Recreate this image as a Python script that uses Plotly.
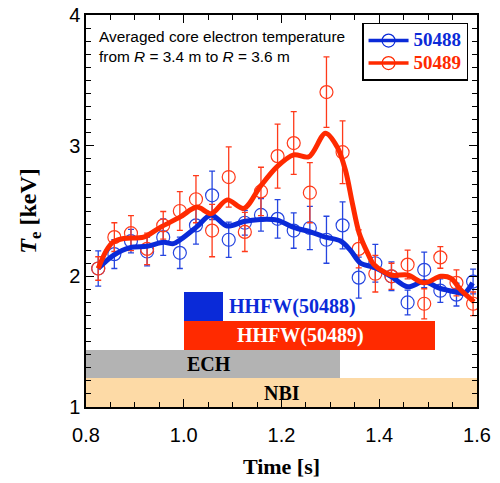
import plotly.graph_objects as go

# ---- data ----
time = [0.825, 0.858, 0.892, 0.925, 0.958, 0.992, 1.025, 1.058, 1.092, 1.125, 1.158, 1.192,
        1.225, 1.258, 1.292, 1.325, 1.358, 1.392, 1.425, 1.458, 1.492, 1.525, 1.558, 1.592]
te_50488 = [2.06, 2.17, 2.27, 2.19, 2.30, 2.18, 2.39, 2.62, 2.28, 2.41, 2.47, 2.44,
            2.35, 2.37, 2.28, 2.39, 1.99, 2.10, 2.00, 1.80, 2.05, 1.89, 1.86, 1.96]
err_50488 = [0.135, 0.11, 0.09, 0.11, 0.14, 0.12, 0.144, 0.185, 0.135, 0.095, 0.124, 0.147,
             0.135, 0.165, 0.18, 0.18, 0.157, 0.144, 0.11, 0.095, 0.136, 0.09, 0.087, 0.095]
te_50489 = [2.06, 2.30, 2.33, 2.21, 2.39, 2.50, 2.59, 2.35, 2.76, 2.34, 2.65, 2.92,
            3.02, 2.64, 3.41, 2.95, 2.21, 2.02, 2.00, 2.09, 1.79, 2.145, 1.95, 1.79]
err_50489 = [0.09, 0.11, 0.134, 0.12, 0.106, 0.148, 0.18, 0.2, 0.23, 0.15, 0.185, 0.245,
             0.24, 0.23, 0.27, 0.24, 0.145, 0.14, 0.1, 0.11, 0.115, 0.083, 0.1, 0.09]

fit_t_50488 = [0.825, 0.856, 0.890, 0.925, 0.959, 0.979, 0.993, 1.027, 1.056, 1.089, 1.123, 1.157,
               1.191, 1.225, 1.259, 1.290, 1.321, 1.341, 1.362, 1.389, 1.424, 1.458, 1.492, 1.523,
               1.557, 1.574, 1.591]
fit_50488 = [2.06, 2.16, 2.22, 2.23, 2.26, 2.25, 2.28, 2.38, 2.47, 2.385, 2.42, 2.435,
             2.43, 2.375, 2.34, 2.30, 2.27, 2.20, 2.10, 2.07, 2.00, 1.92, 1.96, 1.91,
             1.88, 1.87, 1.95]
fit_t_50489 = [0.825, 0.842, 0.856, 0.877, 0.918, 0.952, 0.993, 1.027, 1.056, 1.089, 1.123, 1.157,
               1.191, 1.225, 1.256, 1.290, 1.314, 1.331, 1.345, 1.359, 1.376, 1.389, 1.424, 1.458,
               1.492, 1.526, 1.547, 1.567, 1.594]
fit_50489 = [2.06, 2.20, 2.265, 2.29, 2.30, 2.375, 2.455, 2.53, 2.48, 2.585, 2.52, 2.69,
             2.84, 2.93, 2.915, 3.095, 2.99, 2.81, 2.56, 2.33, 2.18, 2.09, 2.01, 2.01,
             1.95, 2.0, 1.985, 1.895, 1.805]

# heating periods: label, start, end, lower, upper
heat_labels = ["NBI", "ECH", "HHFW(50489)", "HHFW(50488)"]
heat_start = [0.8, 0.8, 1.0, 1.0]
heat_end = [1.6, 1.32, 1.515, 1.08]
heat_low = [1.0, 1.22, 1.44, 1.66]
heat_high = [1.22, 1.44, 1.66, 1.88]
heat_colors = ["#FDDAA6", "#B3B3B3", "#FF2A00", "#0A2AD8"]

BLUE = "#0A2AD8"
BLUE_PT = "#2545E0"
RED = "#FF2A00"
RED_PT = "#FF3A1A"
SERIF = "Liberation Serif"
SANS = "Liberation Sans"

fig = go.Figure()

# heating bars
for lab, s, e, lo, hi, c in zip(heat_labels, heat_start, heat_end, heat_low, heat_high, heat_colors):
    fig.add_trace(go.Bar(orientation="h", y=[(lo + hi) / 2], x=[e - s], base=[s],
                         width=[hi - lo], marker=dict(color=c, line=dict(width=0)),
                         showlegend=False, hoverinfo="skip"))

# data points
fig.add_trace(go.Scatter(x=time, y=te_50488, mode="markers",
                         marker=dict(symbol="circle-open", size=13, color=BLUE_PT, line=dict(width=1.2)),
                         error_y=dict(type="data", array=err_50488, color=BLUE_PT, thickness=1.3, width=3),
                         showlegend=False))
fig.add_trace(go.Scatter(x=time, y=te_50489, mode="markers",
                         marker=dict(symbol="circle-open", size=13, color=RED_PT, line=dict(width=1.2)),
                         error_y=dict(type="data", array=err_50489, color=RED_PT, thickness=1.3, width=3),
                         showlegend=False))
# smoothed curves
fig.add_trace(go.Scatter(x=fit_t_50488, y=fit_50488, mode="lines",
                         line=dict(color=BLUE, width=5, shape="spline", smoothing=0.9), showlegend=False))
fig.add_trace(go.Scatter(x=fit_t_50489, y=fit_50489, mode="lines",
                         line=dict(color=RED, width=5, shape="spline", smoothing=0.9), showlegend=False))

# legend entries
LEG_NAME = '<b><span style="color:%s;font-family:Liberation Serif;font-size:19px">%s</span></b>'
fig.add_trace(go.Scatter(x=[None], y=[None], mode="lines+markers",
                         name=LEG_NAME % (BLUE, "50488"),
                         line=dict(color=BLUE, width=3.5),
                         marker=dict(symbol="circle-open", size=13, color=BLUE, line=dict(width=1.2))))
fig.add_trace(go.Scatter(x=[None], y=[None], mode="lines+markers",
                         name=LEG_NAME % (RED, "50489"),
                         line=dict(color=RED, width=3.5),
                         marker=dict(symbol="circle-open", size=13, color=RED, line=dict(width=1.2))))

annots = [
    dict(x=0.028, y=0.972, xref="paper", yref="paper", xanchor="left", yanchor="top",
         text="Averaged core electron temperature<br>from <i>R</i> = 3.4 m to <i>R</i> = 3.6 m",
         showarrow=False, align="left", font=dict(family=SANS, size=15.4, color="black")),
    dict(x=1.2, y=1.11, xref="x", yref="y", text="<b>NBI</b>", showarrow=False,
         font=dict(family=SERIF, size=20, color="black")),
    dict(x=1.052, y=1.33, xref="x", yref="y", text="<b>ECH</b>", showarrow=False,
         font=dict(family=SERIF, size=20, color="black")),
    dict(x=1.239, y=1.55, xref="x", yref="y", text="<b>HHFW(50489)</b>", showarrow=False,
         font=dict(family=SERIF, size=20, color="white")),
    dict(x=1.088, y=1.77, xref="x", yref="y", xanchor="left", text="<b>HHFW(50488)</b>", showarrow=False,
         font=dict(family=SERIF, size=20, color=BLUE)),
]

axis_common = dict(showline=True, linecolor="black", linewidth=1.5, mirror="allticks",
                   ticks="inside", ticklen=8, tickwidth=1.2, tickcolor="black",
                   showgrid=False, zeroline=False, automargin=False,
                   ticklabeloverflow="allow",
                   tickfont=dict(family=SANS, size=20, color="black"))

# page body adds an 8px offset; margins compensate so the plot area sits at the reference pixels
fig.update_layout(
    width=500, height=483,
    margin=dict(l=78, r=31, t=7, b=84),
    plot_bgcolor="white", paper_bgcolor="white",
    barmode="overlay", bargap=0,
    annotations=annots,
    legend=dict(x=0.706, y=0.98, xanchor="left", yanchor="top",
                bordercolor="black", borderwidth=1.5, bgcolor="white",
                font=dict(family=SERIF, size=15),
                itemwidth=40, tracegroupgap=0),
    xaxis=dict(range=[0.8, 1.6], tickvals=[0.8, 1.0, 1.2, 1.4, 1.6],
               ticktext=["0.8", "1.0", "1.2", "1.4", "1.6"],
               ticklabelstandoff=9,
               minor=dict(dtick=0.05, ticks="inside", ticklen=5, tickwidth=1, tickcolor="black"),
               title=dict(text="<b>Time [s]</b>", font=dict(family=SERIF, size=22, color="black"), standoff=14),
               **axis_common),
    yaxis=dict(range=[1, 4], tickvals=[1, 2, 3, 4],
               minor=dict(dtick=0.1, ticks="inside", ticklen=5, tickwidth=1, tickcolor="black"),
               title=dict(text="<b><i>T</i><sub>e</sub> [keV]</b>", font=dict(family=SERIF, size=24, color="black"), standoff=26),
               **axis_common),
)

fig.write_html("out.html")
